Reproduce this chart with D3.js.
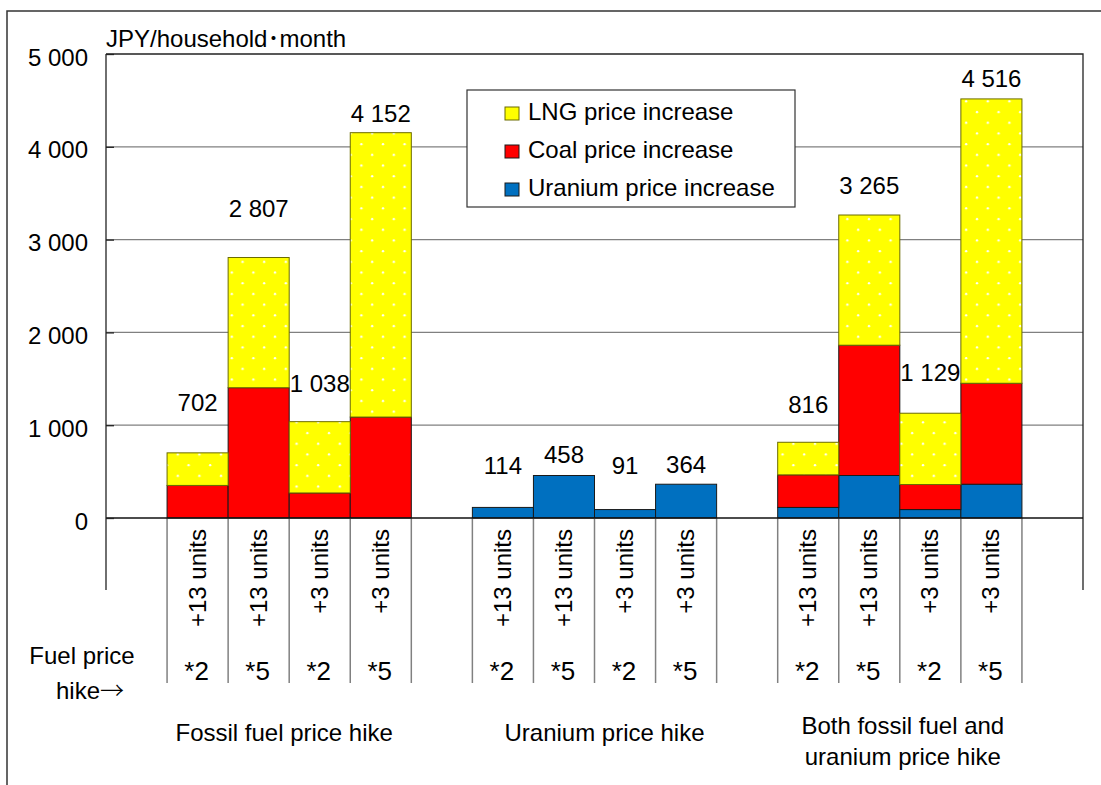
<!DOCTYPE html>
<html>
<head>
<meta charset="utf-8">
<script src="https://cdn.jsdelivr.net/npm/d3@7"></script>
<style>
  body { margin: 0; background: #fff; }
  svg text { font-family: "Liberation Sans", Arial, "Noto Sans CJK JP", sans-serif; fill: #000; }
</style>
</head>
<body>
<div id="chart"></div>
<script>
// Data
var groups = ["Fossil fuel price hike", "Uranium price hike", "Both fossil fuel and|uranium price hike"];
var unitLabels = ["+13 units", "+13 units", "+3 units", "+3 units",
                  "+13 units", "+13 units", "+3 units", "+3 units",
                  "+13 units", "+13 units", "+3 units", "+3 units"];
var hikeLabels = ["*2", "*5", "*2", "*5", "*2", "*5", "*2", "*5", "*2", "*5", "*2", "*5"];
var uraniumValues = [0, 0, 0, 0, 114, 458, 91, 364, 114, 458, 91, 364];
var coalValues = [351, 1404, 270, 1088, 0, 0, 0, 0, 351, 1404, 270, 1088];
var lngValues = [351, 1403, 768, 3064, 0, 0, 0, 0, 351, 1403, 768, 3064];
var yTicks = [0, 1000, 2000, 3000, 4000, 5000];
var seriesNames = ["LNG price increase", "Coal price increase", "Uranium price increase"];

// SVG size
var svgWidth = 1101;
var svgHeight = 785;

var svg = d3.select("#chart")
  .append("svg")
  .attr("width", svgWidth)
  .attr("height", svgHeight);

var FONT = 24;
var plot = { left: 106, right: 1083, top: 54, zero: 518, bottom: 590 };

// outer frame (only top and left edges visible)
svg.append("path")
  .attr("d", "M7,785 V11 H1101")
  .attr("fill", "none")
  .attr("stroke", "#333")
  .attr("stroke-width", 1.5);

// pattern for LNG
var defs = svg.append("defs");
var pat = defs.append("pattern")
  .attr("id", "dots")
  .attr("patternUnits", "userSpaceOnUse")
  .attr("width", 21.6)
  .attr("height", 21.4);
pat.append("rect").attr("width", 21.6).attr("height", 21.4).attr("fill", "#ffff00");
pat.append("circle").attr("cx", 5).attr("cy", 5).attr("r", 1.2).attr("fill", "#fff");
pat.append("circle").attr("cx", 15.8).attr("cy", 15.7).attr("r", 1.2).attr("fill", "#fff");

// build rows, with empty slots between groups
var rows = unitLabels.map(function (u, i) {
  return { id: "b" + i, idx: i, uranium: uraniumValues[i], coal: coalValues[i], lng: lngValues[i] };
});
var slots = ["pad0"];
rows.forEach(function (r, i) {
  slots.push(r.id);
  if (i % 4 === 3) slots.push("gap" + i);
});

var xScale = d3.scaleBand()
  .domain(slots)
  .range([plot.left, plot.right])
  .padding(0);

var yScale = d3.scaleLinear()
  .domain([0, 5000])
  .range([plot.zero, plot.top]);

// gridlines
svg.append("g")
  .selectAll("line")
  .data(yTicks.filter(function (d) { return d > 0 && d < 5000; }))
  .enter()
  .append("line")
  .attr("x1", plot.left)
  .attr("x2", plot.right)
  .attr("y1", function (d) { return yScale(d); })
  .attr("y2", function (d) { return yScale(d); })
  .attr("stroke", "#808080")
  .attr("stroke-width", 1.2);

// plot box: top, right
svg.append("path")
  .attr("d", "M" + plot.left + "," + plot.top + " H" + plot.right + " V" + plot.bottom)
  .attr("fill", "none")
  .attr("stroke", "#222")
  .attr("stroke-width", 1.3);

// stacked bars
var keys = ["uranium", "coal", "lng"];
var fills = { uranium: "#0070c0", coal: "#ff0000", lng: "url(#dots)" };
var strokes = { uranium: "#1a1a1a", coal: "#1a1a1a", lng: "#6b6b00" };
var stacked = d3.stack().keys(keys)(rows);

stacked.forEach(function (layer) {
  svg.append("g")
    .selectAll("rect")
    .data(layer.filter(function (d) { return d[1] - d[0] > 0; }))
    .enter()
    .append("rect")
    .attr("x", function (d) { return xScale(d.data.id); })
    .attr("width", xScale.bandwidth())
    .attr("y", function (d) { return yScale(d[1]); })
    .attr("height", function (d) { return yScale(d[0]) - yScale(d[1]); })
    .attr("fill", fills[layer.key])
    .attr("stroke", strokes[layer.key])
    .attr("stroke-width", 1);
});

// separators below the bars
var sepX = [];
rows.forEach(function (r, i) {
  sepX.push(xScale(r.id));
  if (i % 4 === 3) sepX.push(xScale(r.id) + xScale.bandwidth());
});
svg.append("g")
  .selectAll("line")
  .data(sepX)
  .enter()
  .append("line")
  .attr("x1", function (d) { return d; })
  .attr("x2", function (d) { return d; })
  .attr("y1", plot.zero)
  .attr("y2", 683)
  .attr("stroke", "#808080")
  .attr("stroke-width", 1.5);

// zero line
svg.append("line")
  .attr("x1", plot.left).attr("x2", plot.right)
  .attr("y1", plot.zero).attr("y2", plot.zero)
  .attr("stroke", "#111")
  .attr("stroke-width", 1.5);

// y axis
var leftAxis = d3.axisLeft(yScale)
  .tickValues(yTicks)
  .tickSizeInner(-8)
  .tickSizeOuter(0)
  .tickPadding(18)
  .tickFormat(function (d) { return d3.format(",")(d).replace(/,/g, " "); });

var yAxisG = svg.append("g")
  .attr("transform", "translate(" + plot.left + ",0)")
  .call(leftAxis);
yAxisG.select(".domain").remove();
yAxisG.selectAll("line").attr("stroke", "#222").attr("stroke-width", 1.3);
yAxisG.selectAll("text")
  .attr("font-size", FONT)
  .attr("font-family", "Liberation Sans, Arial, sans-serif")
  .attr("dy", "0.46em")
  .attr("fill", "#000");

svg.append("line")
  .attr("x1", plot.left).attr("x2", plot.left)
  .attr("y1", plot.top).attr("y2", plot.bottom)
  .attr("stroke", "#222")
  .attr("stroke-width", 1.3);

// unit label (half-width middle dot, narrow as in the reference)
svg.append("text")
  .attr("x", plot.left)
  .attr("y", 47)
  .attr("font-size", FONT)
  .text("JPY/household･month");

// total labels above bars (lift tuned to reference placement)
var labelLift = [42, 41, 30, 11, 33, 12, 36, 11, 29, 21, 32, 12];
svg.append("g")
  .selectAll("text")
  .data(rows)
  .enter()
  .append("text")
  .attr("x", function (d) { return xScale(d.id) + xScale.bandwidth() / 2; })
  .attr("y", function (d) { return yScale(d.uranium + d.coal + d.lng) - labelLift[d.idx]; })
  .attr("text-anchor", "middle")
  .attr("font-size", FONT)
  .text(function (d) { return d3.format(",")(d.uranium + d.coal + d.lng).replace(/,/g, " "); });

// rotated scenario labels
svg.append("g")
  .selectAll("text")
  .data(rows)
  .enter()
  .append("text")
  .attr("transform", function (d) {
    return "translate(" + (xScale(d.id) + xScale.bandwidth() / 2 + 8) + ",529) rotate(-90)";
  })
  .attr("text-anchor", "end")
  .attr("font-size", FONT)
  .text(function (d) { return unitLabels[d.idx]; });

// multiplier labels
svg.append("g")
  .selectAll("text")
  .data(rows)
  .enter()
  .append("text")
  .attr("x", function (d) { return xScale(d.id) + xScale.bandwidth() / 2 - 1; })
  .attr("y", 680)
  .attr("text-anchor", "middle")
  .attr("font-size", 26)
  .text(function (d) { return hikeLabels[d.idx]; });

// row header
svg.append("text").attr("x", 82).attr("y", 664).attr("text-anchor", "middle")
  .attr("font-size", FONT).text("Fuel price");
var hikeText = svg.append("text").attr("x", 90).attr("y", 699).attr("text-anchor", "middle")
  .attr("font-size", FONT);
hikeText.append("tspan").text("hike");
hikeText.append("tspan").attr("font-family", "Noto Sans CJK JP").attr("font-weight", 300).text("→");

// group labels
var groupShift = [-5, 10, 3];
groups.forEach(function (g, gi) {
  var first = rows[gi * 4].id, last = rows[gi * 4 + 3].id;
  var cx = (xScale(first) + xScale(last) + xScale.bandwidth()) / 2 + groupShift[gi];
  var lines = g.split("|");
  var y0 = lines.length === 1 ? 741 : 734;
  lines.forEach(function (line, li) {
    svg.append("text")
      .attr("x", cx)
      .attr("y", y0 + li * 31)
      .attr("text-anchor", "middle")
      .attr("font-size", FONT)
      .text(line);
  });
});

// legend
var legend = svg.append("g");
legend.append("rect")
  .attr("x", 467).attr("y", 90)
  .attr("width", 328).attr("height", 117)
  .attr("fill", "#fff")
  .attr("stroke", "#333")
  .attr("stroke-width", 1.2);

var legendFill = ["#ffff00", "#ff0000", "#0070c0"];
var legendStroke = ["#6b6b00", "#1a1a1a", "#1a1a1a"];
seriesNames.forEach(function (name, i) {
  var base = 120 + i * 38;
  legend.append("rect")
    .attr("x", 505).attr("y", base - 13)
    .attr("width", 14).attr("height", 13)
    .attr("fill", legendFill[i])
    .attr("stroke", legendStroke[i])
    .attr("stroke-width", 1);
  legend.append("text")
    .attr("x", 528).attr("y", base)
    .attr("font-size", FONT)
    .text(name);
});
</script>
</body>
</html>
